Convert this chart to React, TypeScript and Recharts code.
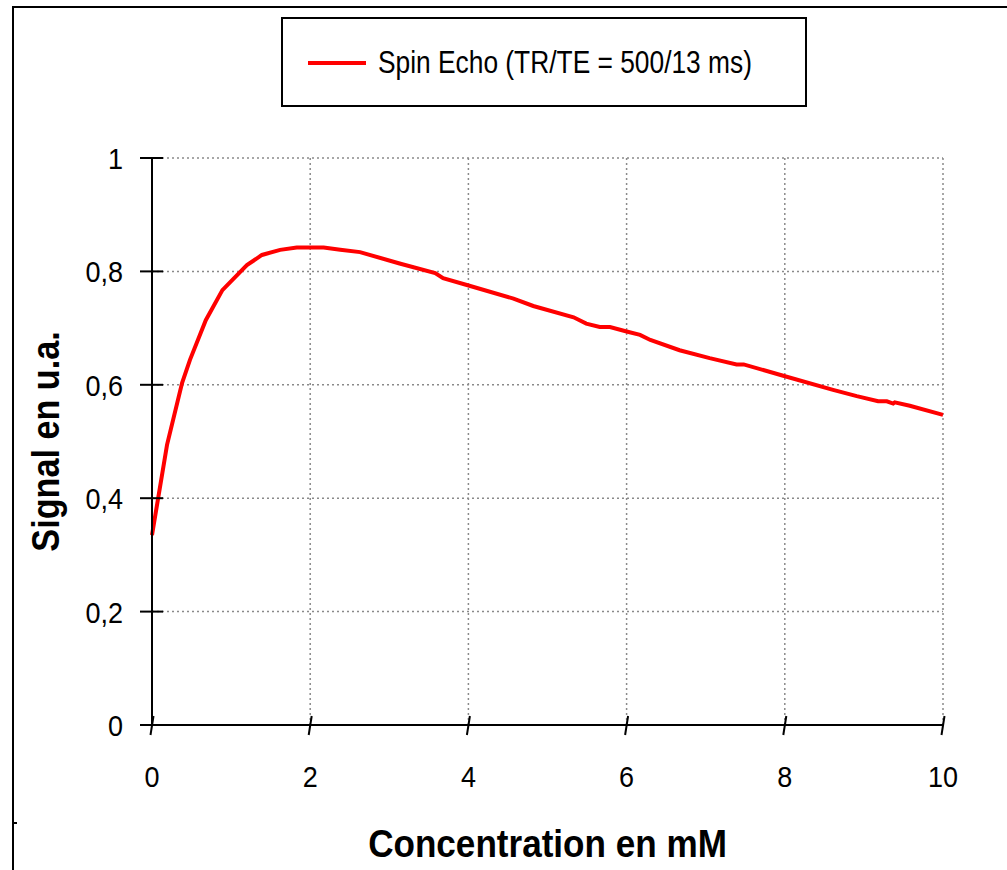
import React from 'react';
import { LineChart, Line, XAxis, YAxis, CartesianGrid, Legend } from 'recharts';

const concentration = [0, 0.19, 0.38, 0.48, 0.68, 0.89, 1.2, 1.39, 1.62, 1.83, 2.17, 2.38, 2.63, 3.13, 3.58, 3.68, 3.98, 4.57, 4.82, 5.33, 5.49, 5.66, 5.79, 6.0, 6.17, 6.3, 6.67, 7.05, 7.39, 7.48, 7.98, 8.61, 8.91, 9.18, 9.29, 9.37, 9.39, 9.58, 10];
const signal = [0.335, 0.494, 0.603, 0.644, 0.714, 0.767, 0.811, 0.829, 0.838, 0.842, 0.842, 0.838, 0.834, 0.814, 0.797, 0.788, 0.776, 0.752, 0.739, 0.719, 0.708, 0.702, 0.702, 0.694, 0.688, 0.679, 0.661, 0.647, 0.636, 0.636, 0.616, 0.591, 0.58, 0.571, 0.571, 0.567, 0.569, 0.563, 0.547];
const xTicks = [0, 2, 4, 6, 8, 10];
const yTicks = [0, 0.2, 0.4, 0.6, 0.8, 1];
const yTickLabels = ['0', '0,2', '0,4', '0,6', '0,8', '1'];
const seriesName = 'Spin Echo (TR/TE = 500/13 ms)';
const xTitle = 'Concentration en mM';
const yTitle = 'Signal en u.a.';

const data = concentration.map((c, i) => ({ c, s: signal[i] }));

const FONT = '"Liberation Sans", Arial, sans-serif';
const Y_TICK_SIZE = 12;
const Y_TICK_MARGIN = 17;
const X_TICK_SIZE = 10;
const X_TICK_MARGIN = 27;

const YTick = (props: any) => {
  const { x, y, payload } = props;
  const axisX = x + Y_TICK_SIZE + Y_TICK_MARGIN;
  const idx = yTicks.indexOf(payload.value);
  return (
    <g>
      <line x1={axisX - 12} x2={axisX + 11} y1={y} y2={y} stroke="#000" strokeWidth={2} />
      <g transform={`translate(${x} ${y + 11}) scale(0.9 1)`}>
        <text x={0} y={0} textAnchor="end" fontFamily={FONT} fontSize={30} fill="#000">
          {idx >= 0 ? yTickLabels[idx] : String(payload.value)}
        </text>
      </g>
    </g>
  );
};

const XTick = (props: any) => {
  const { x, y, payload } = props;
  const axisY = y - X_TICK_SIZE - X_TICK_MARGIN;
  return (
    <g>
      <line x1={x + 1.5} x2={x - 1.5} y1={axisY - 9} y2={axisY + 10} stroke="#000" strokeWidth={2} />
      <g transform={`translate(${x} ${y + 25}) scale(0.9 1)`}>
        <text x={0} y={0} textAnchor="middle" fontFamily={FONT} fontSize={30} fill="#000">
          {String(payload.value)}
        </text>
      </g>
    </g>
  );
};

const renderLegend = () => (
  <svg width={526} height={90} style={{ display: 'block' }}>
    <rect x={1} y={1} width={524} height={88} fill="#fff" stroke="#000" strokeWidth={2} />
    <line x1={27} x2={85} y1={46} y2={46} stroke="#ff0000" strokeWidth={4} />
    <g transform="translate(97 56) scale(0.85 1)">
      <text x={0} y={0} fontFamily={FONT} fontSize={31} fill="#000">
        {seriesName}
      </text>
    </g>
  </svg>
);

const YLabel = (props: any) => {
  const vb = props.viewBox || { x: 0, y: 158, width: 152, height: 567 };
  const cx = vb.x + 59;
  const cy = vb.y + vb.height / 2;
  return (
    <g transform={`translate(${cx} ${cy}) rotate(-90) scale(0.9 1)`}>
      <text x={0} y={0} textAnchor="middle" fontFamily={FONT} fontWeight="bold" fontSize={38} fill="#000">
        {yTitle}
      </text>
    </g>
  );
};

const XLabel = (props: any) => {
  const vb = props.viewBox || { x: 152, y: 725, width: 791, height: 145 };
  return (
    <g transform={`translate(${vb.x + vb.width / 2} ${vb.y + 132}) scale(0.9 1)`}>
      <text x={0} y={0} textAnchor="middle" fontFamily={FONT} fontWeight="bold" fontSize={39} fill="#000">
        {xTitle}
      </text>
    </g>
  );
};

export default function App() {
  return (
    <div style={{ position: 'absolute', left: 0, top: 0, width: 1007, height: 870, background: '#fff', overflow: 'hidden' }}>
      <div style={{ position: 'absolute', left: 12, top: 6, width: 995, height: 864, borderTop: '2px solid #000', borderLeft: '2px solid #000', boxSizing: 'border-box' }} />
      <div style={{ position: 'absolute', left: 12, top: 822, width: 5, height: 0, borderTop: '2px solid #000' }} />
      <LineChart width={1007} height={870} data={data} margin={{ top: 158, right: 64, bottom: 0, left: 0 }}>
        <CartesianGrid stroke="#8a8a8a" strokeWidth={1.5} strokeDasharray="2 3" horizontalValues={yTicks} verticalValues={xTicks} />
        <XAxis
          dataKey="c"
          type="number"
          domain={[0, 10]}
          ticks={xTicks}
          height={145}
          axisLine={{ stroke: '#000', strokeWidth: 2 }}
          tickLine={false}
          tickSize={X_TICK_SIZE}
          tickMargin={X_TICK_MARGIN}
          tick={<XTick />}
          interval={0}
          label={<XLabel />}
        />
        <YAxis
          type="number"
          domain={[0, 1]}
          ticks={yTicks}
          width={152}
          axisLine={{ stroke: '#000', strokeWidth: 2 }}
          tickLine={false}
          tickSize={Y_TICK_SIZE}
          tickMargin={Y_TICK_MARGIN}
          tick={<YTick />}
          interval={0}
          label={<YLabel />}
        />
        <Legend
          layout="horizontal"
          verticalAlign="middle"
          align="center"
          content={renderLegend}
          wrapperStyle={{ position: 'absolute', left: 281, top: 17, width: 526, height: 90 }}
        />
        <Line type="linear" dataKey="s" name={seriesName} stroke="#ff0000" strokeWidth={4} dot={false} isAnimationActive={false} />
      </LineChart>
    </div>
  );
}
